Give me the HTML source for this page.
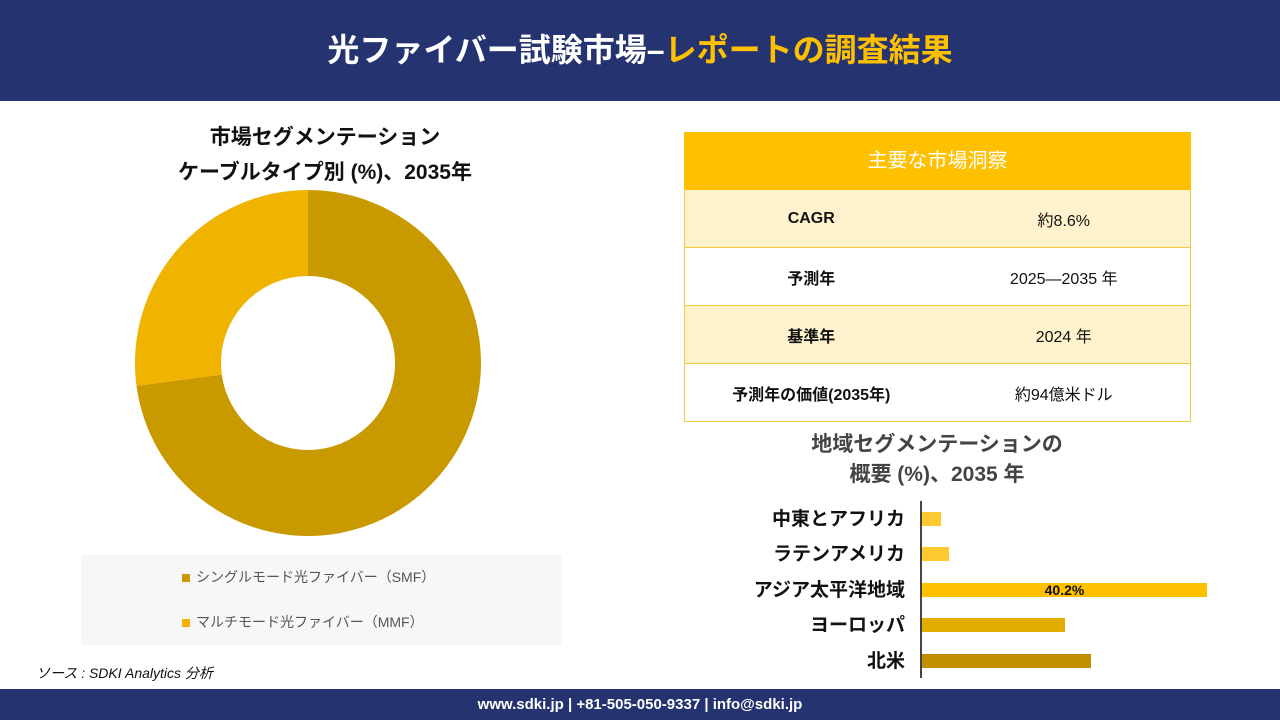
<!DOCTYPE html>
<html><head><meta charset="utf-8"><style>
*{margin:0;padding:0;box-sizing:border-box}
body{width:1280px;height:720px;position:relative;background:#fff;font-family:"Liberation Sans","Noto Sans CJK JP",sans-serif;overflow:hidden}
.abs{position:absolute}
.hdr{left:0;top:0;width:1280px;height:101px;background:#253370;color:#fff;font-size:32px;font-weight:bold;text-align:center;line-height:101px}
.ftr{left:0;top:689px;width:1280px;height:31px;background:#253370;color:#fff;font-size:15px;font-weight:bold;text-align:center;line-height:31px}
.t{left:684px;width:507px;border:1px solid #F5C842;border-top:none;display:flex;align-items:center;font-size:16px;color:#111}
.t div{flex:1;text-align:center}
.lbl{right:375px;font-size:19px;font-weight:bold;color:#111;text-align:right;width:220px}
.bar{left:922px;height:14px}
</style></head><body>
<div class="abs hdr">光ファイバー試験市場–<span style="color:#FFC000">レポートの調査結果</span></div>
<div class="abs" style="left:115px;top:120px;width:420px;text-align:center;font-size:21px;font-weight:bold;line-height:35px;color:#111">市場セグメンテーション<br>ケーブルタイプ別 (%)、2035年</div>
<svg class="abs" style="left:0;top:0" width="640" height="560">
<path d="M308 190 A173 173 0 1 1 136.5 385.9 L221.8 374.5 A87 87 0 1 0 308 276 Z" fill="#C89A00"/>
<path d="M136.5 385.9 A173 173 0 0 1 308 190 L308 276 A87 87 0 0 0 221.8 374.5 Z" fill="#F0B400"/>
</svg>
<div class="abs" style="left:81px;top:555px;width:481px;height:90px;background:#F7F7F7"></div>
<div class="abs" style="left:182px;top:567px;font-size:14px;color:#555"><span style="display:inline-block;width:8px;height:8px;background:#C89A00;margin-right:6px"></span>シングルモード光ファイバー（SMF）</div>
<div class="abs" style="left:182px;top:612px;font-size:14px;color:#555"><span style="display:inline-block;width:8px;height:8px;background:#F0B400;margin-right:6px"></span>マルチモード光ファイバー（MMF）</div>
<div class="abs" style="left:36px;top:663px;font-size:14px;font-style:italic;color:#111">ソース : SDKI Analytics 分析</div>

<div class="abs" style="left:684px;top:132px;width:507px;height:58px;background:#FFC000;color:#fff;font-size:20px;text-align:center;line-height:58px">主要な市場洞察</div>
<div class="abs t" style="top:190px;height:58px;background:#FFF2CC"><div style="font-weight:bold">CAGR</div><div>約8.6%</div></div>
<div class="abs t" style="top:248px;height:58px;background:#fff"><div style="font-weight:bold">予測年</div><div>2025—2035 年</div></div>
<div class="abs t" style="top:306px;height:58px;background:#FFF2CC"><div style="font-weight:bold">基準年</div><div>2024 年</div></div>
<div class="abs t" style="top:364px;height:58px;background:#fff"><div style="font-weight:bold">予測年の価値(2035年)</div><div>約94億米ドル</div></div>

<div class="abs" style="left:737px;top:430px;width:400px;text-align:center;font-size:21px;font-weight:bold;line-height:30px;color:#444">地域セグメンテーションの<br>概要 (%)、2035 年</div>
<div class="abs" style="left:920px;top:501px;width:2px;height:177px;background:#444"></div>
<div class="abs lbl" style="top:504px">中東とアフリカ</div>
<div class="abs lbl" style="top:539px">ラテンアメリカ</div>
<div class="abs lbl" style="top:575px">アジア太平洋地域</div>
<div class="abs lbl" style="top:610px">ヨーロッパ</div>
<div class="abs lbl" style="top:646px">北米</div>
<div class="abs bar" style="top:512px;width:19px;background:#FFC930"></div>
<div class="abs bar" style="top:547px;width:27px;background:#FFC930"></div>
<div class="abs bar" style="top:583px;width:285px;background:#FFC000;font-size:14px;font-weight:bold;line-height:14px;color:#111;text-align:center">40.2%</div>
<div class="abs bar" style="top:618px;width:143px;background:#E2AC00"></div>
<div class="abs bar" style="top:654px;width:169px;background:#C09000"></div>
<div class="abs ftr">www.sdki.jp | +81-505-050-9337 | info@sdki.jp</div>
</body></html>
